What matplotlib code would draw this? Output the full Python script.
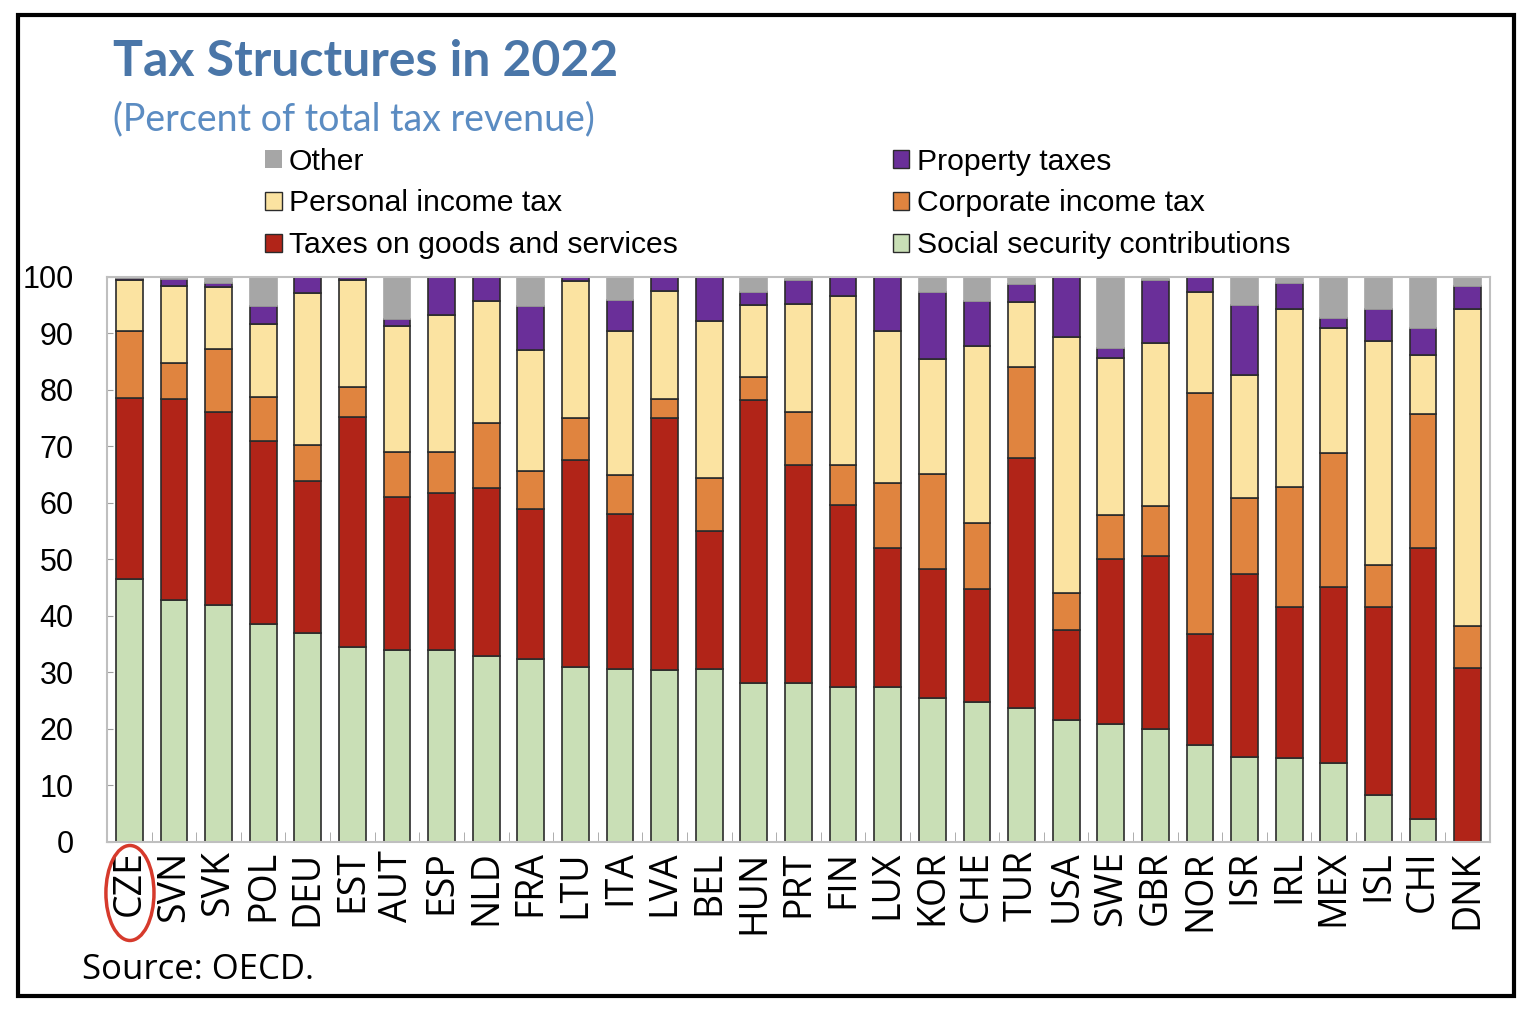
import matplotlib
matplotlib.use('Agg')
import matplotlib.pyplot as plt
from matplotlib.patches import Ellipse, Rectangle, Patch
import numpy as np

# paises na ordem do grafico
countries = ['CZE', 'SVN', 'SVK', 'POL', 'DEU', 'EST', 'AUT', 'ESP', 'NLD', 'FRA', 'LTU',
             'ITA', 'LVA', 'BEL', 'HUN', 'PRT', 'FIN', 'LUX', 'KOR', 'CHE', 'TUR', 'USA',
             'SWE', 'GBR', 'NOR', 'ISR', 'IRL', 'MEX', 'ISL', 'CHI', 'DNK']

# percentuais (de baixo pra cima)
social = [46.6, 42.8, 41.9, 38.6, 37.0, 34.6, 34.0, 34.0, 33.0, 32.4, 31.0,
          30.6, 30.5, 30.6, 28.2, 28.1, 27.4, 27.4, 25.4, 24.7, 23.7, 21.6,
          20.9, 20.0, 17.2, 15.1, 14.9, 14.0, 8.4, 4.0, 0.0]
goods = [32.0, 35.6, 34.2, 32.3, 26.9, 40.7, 27.1, 27.8, 29.7, 26.6, 36.6,
         27.5, 44.6, 24.4, 50.0, 38.6, 32.3, 24.6, 22.9, 20.1, 44.2, 16.0,
         29.2, 30.6, 19.7, 32.4, 26.7, 31.2, 33.2, 48.0, 30.8]
corporate = [11.9, 6.3, 11.2, 7.9, 6.3, 5.2, 7.9, 7.2, 11.5, 6.6, 7.5,
             6.8, 3.3, 9.4, 4.1, 9.4, 7.0, 11.5, 16.8, 11.6, 16.2, 6.4,
             7.8, 8.9, 42.6, 13.4, 21.3, 23.7, 7.4, 23.8, 7.4]
personal = [9.0, 13.7, 10.9, 12.8, 27.0, 19.0, 22.3, 24.2, 21.5, 21.4, 24.2,
            25.6, 19.2, 27.9, 12.8, 19.2, 30.0, 26.9, 20.4, 31.3, 11.4, 45.4,
            27.8, 28.8, 17.9, 21.8, 31.5, 22.1, 39.7, 10.4, 56.2]
property_ = [0.4, 1.3, 0.7, 3.2, 2.8, 0.5, 1.2, 6.8, 4.3, 7.9, 0.7,
             5.4, 2.4, 7.7, 2.3, 4.2, 3.3, 9.6, 11.9, 8.0, 3.2, 10.6,
             1.8, 11.2, 2.6, 12.3, 4.6, 1.8, 5.6, 4.8, 4.0]
other = [0.1, 0.3, 1.1, 5.2, 0.0, 0.0, 7.5, 0.0, 0.0, 5.1, 0.0,
         4.1, 0.0, 0.0, 2.6, 0.5, 0.0, 0.0, 2.6, 4.3, 1.3, 0.0,
         12.5, 0.5, 0.0, 5.0, 1.0, 7.2, 5.7, 9.0, 1.6]

series = [
    ('Social security contributions', social, '#c9dfb6'),
    ('Taxes on goods and services', goods, '#b12418'),
    ('Corporate income tax', corporate, '#e0843f'),
    ('Personal income tax', personal, '#fbe3a1'),
    ('Property taxes', property_, '#6a2f99'),
    ('Other', other, '#a6a6a6'),
]

fig = plt.figure(figsize=(15.36, 10.18), dpi=100)
ax = fig.add_axes([0.0697, 0.1729, 0.9003, 0.555])

x = np.arange(len(countries))
bottom = np.zeros(len(countries))
for name, vals, col in series:
    vals = np.array(vals)
    # outras sem borda escura
    ec = col if name == 'Other' else '#2b2b2b'
    ax.bar(x, vals, 0.6, bottom=bottom, color=col, edgecolor=ec, linewidth=1.2)
    bottom += vals

ax.set_xlim(-0.5, len(countries) - 0.5)
ax.set_ylim(0, 100)
ax.set_yticks(range(0, 101, 10))
ax.set_xticks(x)
ax.set_xticklabels(countries, rotation=90, fontsize=27, family='Open Sans')
ax.set_xticks(x[:-1] + 0.5, minor=True)
ax.tick_params(axis='x', which='major', length=0, pad=6)
ax.tick_params(axis='x', which='minor', direction='in', length=7, color='#a0a0a0')
ax.tick_params(axis='y', direction='in', length=4, color='#a0a0a0', labelsize=22, pad=24)
for lab in ax.get_yticklabels():
    lab.set_family('Liberation Sans')
for s in ax.spines.values():
    s.set_color('#bfbfbf')
    s.set_linewidth(1.5)

# titulo e subtitulo
fig.text(0.0735, 0.94, 'Tax Structures in 2022', fontsize=36, fontweight='bold',
         family='Lato', color='#4a76a8', va='center')
fig.text(0.0735, 0.883, '(Percent of total tax revenue)', fontsize=27,
         family='Lato', color='#5b8cc2', va='center')

# legenda em duas colunas
order = ['Other', 'Personal income tax', 'Taxes on goods and services',
         'Property taxes', 'Corporate income tax', 'Social security contributions']
cols = {n: c for n, _, c in series}
handles = [Patch(facecolor=cols[n], edgecolor='#2b2b2b', linewidth=1.0 if n != 'Other' else 0) for n in order]
leg = fig.legend(handles, order, loc='upper left', bbox_to_anchor=(0.1725, 0.855), ncol=2,
                 frameon=False, prop={'family': 'Liberation Sans', 'size': 21.7},
                 handlelength=0.55, handleheight=0.55, handletextpad=0.25,
                 labelspacing=0.46, columnspacing=7.13, borderpad=0, borderaxespad=0)

fig.text(0.0534, 0.047, 'Source: OECD.', fontsize=25, family='Open Sans', va='center')

# circulo vermelho no CZE
fig.patches.append(Ellipse((0.0846, 0.1228), 0.0313, 0.0933, transform=fig.transFigure,
                           fill=False, edgecolor='#d63a2c', linewidth=2.5))
# moldura externa
fig.patches.append(Rectangle((0.0117, 0.0216), 0.974, 0.9637, transform=fig.transFigure,
                             fill=False, edgecolor='black', linewidth=3))

fig.savefig('out.png', dpi=100)
